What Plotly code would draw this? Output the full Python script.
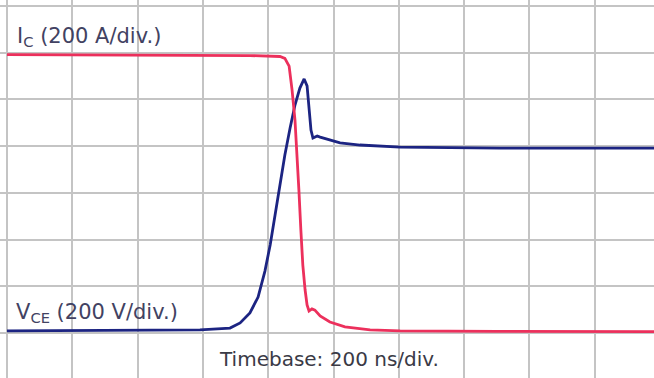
import plotly.graph_objects as go

# Turn-off switching waveform: collector current and collector-emitter voltage
# Time in ns, current in A, voltage in V (both shown at 200 units/div)
ic_time_ns = [0, 285, 591, 744, 836, 851, 864, 873, 882, 888, 894, 900, 906, 913,
              919, 925, 934, 943, 959, 989, 1035, 1112, 1204, 1500, 1982]
ic_amps = [1192, 1191, 1190, 1188, 1184, 1176, 1143, 1041, 912, 784, 612, 441, 291, 184,
           120, 94, 103, 98, 73, 47, 26, 13, 9, 7, 6]

vce_time_ns = [0, 285, 591, 683, 714, 744, 769, 790, 806, 821, 836, 851, 867, 882,
               897, 910, 919, 925, 931, 937, 950, 959, 980, 1020, 1081, 1204, 1510, 1982]
vce_volts = [9, 11, 13, 21, 43, 86, 154, 265, 377, 505, 634, 762, 878, 976,
             1049, 1088, 1058, 963, 869, 835, 844, 839, 831, 814, 805, 796, 792, 792]

grid_step = 200  # ns/div on x, A/div and V/div on y

fig = go.Figure()
fig.add_trace(go.Scatter(x=vce_time_ns, y=vce_volts, mode="lines",
                         line=dict(color="rgb(28,36,130)", width=2.8), hoverinfo="skip"))
fig.add_trace(go.Scatter(x=ic_time_ns, y=ic_amps, mode="lines",
                         line=dict(color="rgb(236,48,92)", width=2.8), hoverinfo="skip"))

axis_style = dict(showgrid=True, gridcolor="rgb(196,196,196)", gridwidth=1.6,
                  zeroline=False, showticklabels=False, ticks="", showline=False,
                  tick0=0, dtick=grid_step, fixedrange=True)

fig.update_layout(
    width=654, height=378,
    margin=dict(l=0, r=0, t=0, b=0),
    paper_bgcolor="white", plot_bgcolor="white",
    showlegend=False,
    xaxis=dict(range=[-21.4, 1981.5], **axis_style),
    yaxis=dict(range=[-192.7, 1426], **axis_style),
    font=dict(family="DejaVu Sans", size=20, color="rgb(62,62,92)"),
)

label_font = dict(family="DejaVu Sans", size=21, color="rgb(66,66,98)")
fig.add_annotation(x=15 / 654, y=1 - 37 / 378, xref="paper", yref="paper",
                   xanchor="left", yanchor="middle", showarrow=False,
                   text="I<sub>C</sub> (200 A/div.)", font=label_font)
fig.add_annotation(x=14 / 654, y=1 - 313 / 378, xref="paper", yref="paper",
                   xanchor="left", yanchor="middle", showarrow=False,
                   text="V<sub>CE</sub> (200 V/div.)", font=label_font)
fig.add_annotation(x=217 / 654, y=1 - 359 / 378, xref="paper", yref="paper",
                   xanchor="left", yanchor="middle", showarrow=False,
                   text="Timebase: 200 ns/div.",
                   font=dict(family="DejaVu Sans", size=20, color="rgb(58,58,70)"))

fig.write_html("out.html")
